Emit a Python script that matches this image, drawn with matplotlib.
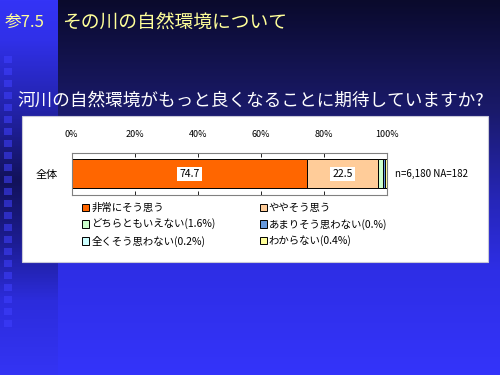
import numpy as np
import matplotlib
matplotlib.use("Agg")
import matplotlib.pyplot as plt
from matplotlib.patches import Rectangle, Patch

plt.rcParams['font.family'] = ['Noto Sans CJK JP', 'DejaVu Sans']

# data
row_label = '全体'
categories = ['非常にそう思う', 'ややそう思う', 'どちらともいえない(1.6%)',
              'あまりそう思わない(0.%)', '全くそう思わない(0.2%)', 'わからない(0.4%)']
values = [74.7, 22.5, 1.6, 0.6, 0.2, 0.4]
shown = [True, True, False, False, False, False]
colors = ['#ff6600', '#ffcc99', '#ccffcc', '#6699dd', '#ccffff', '#ffff99']
ticks = [0, 20, 40, 60, 80, 100]
tick_labels = ['0%', '20%', '40%', '60%', '80%', '100%']
note = 'n=6,180 NA=182'
header_no = '参7.5'
header = 'その川の自然環境について'
question = '河川の自然環境がもっと良くなることに期待していますか?'

W, H = 500, 375
fig = plt.figure(figsize=(W / 100, H / 100), dpi=100)

# slide background
def grad(stops, n):
    ys = np.arange(n)
    pos = [s[0] for s in stops]
    cols = np.array([matplotlib.colors.to_rgb(s[1]) for s in stops])
    return np.stack([np.interp(ys, pos, cols[:, k]) for k in range(3)], axis=1)

main = grad([(0, '#0a0a2c'), (110, '#1a1a6a'), (200, '#2626b8'), (270, '#2e2ee6'), (374, '#3434fa')], H)
left = grad([(0, '#3434f6'), (40, '#3030e8'), (110, '#2222a8'), (180, '#12125a'), (240, '#1c1c90'),
             (300, '#2c2cdc'), (374, '#3434f4')], H)
img = np.repeat(main[:, None, :], W, axis=1)
img[:, :58, :] = left[:, None, :]
bg = fig.add_axes([0, 0, 1, 1])
bg.imshow(img, aspect='auto', extent=(0, W, H, 0))
for y in range(56, 330, 12):
    bg.add_patch(Rectangle((4, y), 8, 7, color='#4040ff', alpha=0.55, lw=0))
# white panel
bg.add_patch(Rectangle((22, 116), 466, 146, facecolor='white', edgecolor='#c8c8d8', lw=0.8))
bg.set_xlim(0, W)
bg.set_ylim(H, 0)
bg.axis('off')

bg.text(5, 22, header_no, color='#ffff99', fontsize=12, va='center', ha='left')
bg.text(62, 22, header, color='#ffff99', fontsize=13.5, va='center', ha='left')
bg.text(17, 101, question, color='white', fontsize=12.7, va='center', ha='left')

# chart
ax = fig.add_axes([71.7 / W, 1 - 195 / H, 315 / W, 42.3 / H])
left_pos = 0
handles = []
for v, c, lab, s in zip(values, colors, categories, shown):
    ax.barh(0, v, left=left_pos, height=0.686, color=c, edgecolor='black', linewidth=0.7)
    if s:
        ax.text(left_pos + v / 2, 0, f'{v}', ha='center', va='center', fontsize=7.5,
                bbox=dict(facecolor='white', edgecolor='none', pad=1.5))
    handles.append(Patch(facecolor=c, edgecolor='black', linewidth=0.7, label=lab))
    left_pos += v
ax.set_xlim(0, 100)
ax.set_ylim(-0.5, 0.5)
ax.set_xticks(ticks)
ax.set_xticklabels(tick_labels, fontsize=6.5)
ax.set_yticks([0])
ax.set_yticklabels([row_label], fontsize=8)
ax.tick_params(axis='x', direction='in', top=True, bottom=True, labeltop=True,
               labelbottom=False, length=3, width=0.6, pad=10)
ax.tick_params(axis='y', length=0, pad=10)
for sp in ax.spines.values():
    sp.set_color('#808080')
    sp.set_linewidth(0.8)
ax.text(102.5, 0, note, ha='left', va='center', fontsize=7)

order = [0, 2, 4, 1, 3, 5]
fig.legend([handles[i] for i in order], [categories[i] for i in order], ncol=2,
           loc='upper left', bbox_to_anchor=(82 / W, 1 - 203 / H), frameon=False,
           fontsize=7.5, handlelength=0.7, handleheight=0.7, handletextpad=0.2,
           labelspacing=0.55, columnspacing=4.2, borderpad=0, borderaxespad=0)

fig.savefig('out.png', dpi=100)
